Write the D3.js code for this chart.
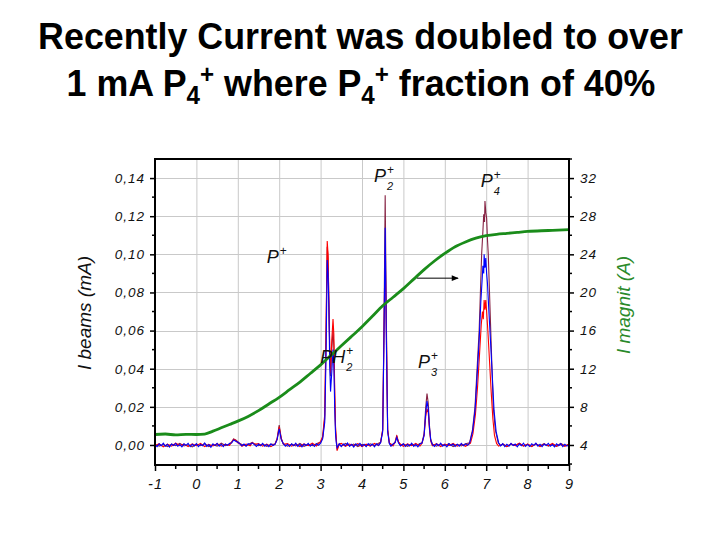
<!DOCTYPE html>
<html><head><meta charset="utf-8">
<script src="https://cdn.jsdelivr.net/npm/d3@7"></script>
<style>
html,body{margin:0;padding:0;background:#fff;}
svg{display:block;}
</style></head>
<body>
<svg id="chart" width="720" height="540"></svg>
<script>
// ---------- data ----------
const titleLine1 = "Recently Current was doubled to over";
const xTicks = [-1,0,1,2,3,4,5,6,7,8,9];
const yLeftTicks = [0,0.02,0.04,0.06,0.08,0.10,0.12,0.14];
const yRightTicks = [4,8,12,16,20,24,28,32];

const beamMaroon = [[-1,0.0004],[-0.9,-0.0006],[-0.8,0.0002],[-0.7,-0.0009],[-0.6,0.0005],[-0.5,-0.0003],[-0.4,0.0008],[-0.3,-0.0005],[-0.2,0.0001],[-0.1,-0.0010],[0,0.0004],[0.1,-0.0004],[0.2,0.0007],[0.3,-0.0008],[0.4,0.0002],[0.5,-0.0006],[0.6,0.0009],[0.7,-0.0003],[0.8,0.0004],[0.85,0.0015],[0.9,0.0032],[0.95,0.0026],[1.0,0.0018],[1.05,0.0008],[1.1,0.0002],[1.2,-0.0005],[1.3,0.0008],[1.35,0.0014],[1.4,0.0006],[1.5,-0.0004],[1.6,0.0005],[1.7,-0.0007],[1.8,0.0003],[1.9,0.0004],[1.95,0.0035],[2.0,0.0105],[2.05,0.0035],[2.1,0.0006],[2.2,-0.0006],[2.3,0.0004],[2.4,-0.0005],[2.5,0.0008],[2.6,-0.0007],[2.7,0.0003],[2.8,-0.0004],[2.9,0.0007],[3.0,0.0015],[3.05,0.004],[3.1,0.014],[3.13,0.055],[3.16,0.104],[3.18,0.098],[3.2,0.074],[3.22,0.050],[3.24,0.036],[3.27,0.050],[3.3,0.060],[3.32,0.052],[3.34,0.026],[3.36,0.008],[3.38,0.002],[3.4,-0.002],[3.45,0.0004],[3.5,-0.0006],[3.6,0.0008],[3.7,-0.0004],[3.8,0.0005],[3.9,-0.0008],[4.0,0.0003],[4.1,-0.0005],[4.2,0.0006],[4.3,-0.0003],[4.4,0.0009],[4.45,0.0015],[4.5,0.008],[4.53,0.060],[4.56,0.131],[4.59,0.062],[4.62,0.008],[4.66,0.0012],[4.7,-0.0005],[4.75,0.0004],[4.8,0.0015],[4.84,0.0046],[4.88,0.0015],[4.93,-0.0003],[5.0,0.0006],[5.1,-0.0007],[5.2,0.0004],[5.3,-0.0005],[5.4,0.0008],[5.45,0.0012],[5.5,0.006],[5.54,0.020],[5.57,0.027],[5.6,0.022],[5.63,0.010],[5.66,0.003],[5.7,0.0004],[5.8,-0.0006],[5.9,0.0005],[6.0,-0.0004],[6.1,0.0007],[6.2,-0.0008],[6.3,0.0003],[6.4,-0.0005],[6.5,0.0006],[6.6,0.0012],[6.67,0.008],[6.73,0.020],[6.78,0.040],[6.83,0.060],[6.86,0.080],[6.89,0.100],[6.92,0.112],[6.94,0.121],[6.96,0.117],[6.97,0.128],[6.99,0.122],[7.01,0.119],[7.03,0.108],[7.05,0.100],[7.08,0.080],[7.11,0.060],[7.14,0.040],[7.17,0.020],[7.22,0.008],[7.29,0.0012],[7.35,-0.0004],[7.4,0.0006],[7.5,-0.0008],[7.6,0.0005],[7.7,-0.0003],[7.8,0.0008],[7.9,-0.0006],[8.0,0.0004],[8.1,-0.0009],[8.2,0.0006],[8.3,-0.0004],[8.4,0.0007],[8.5,-0.0006],[8.6,0.0003],[8.7,-0.0007],[8.8,0.0008],[8.9,-0.0004],[9.0,0.0003]];

const beamRed = [[-1,-0.0005],[-0.9,0.0007],[-0.8,-0.0010],[-0.7,0.0004],[-0.6,-0.0006],[-0.5,0.0009],[-0.4,-0.0003],[-0.3,0.0005],[-0.2,-0.0008],[-0.1,0.0006],[0,-0.0004],[0.1,0.0008],[0.2,-0.0009],[0.3,0.0003],[0.4,-0.0005],[0.5,0.0007],[0.6,-0.0006],[0.7,0.0004],[0.8,-0.0002],[0.85,0.0014],[0.9,0.0030],[0.95,0.0024],[1.0,0.0012],[1.05,0.0006],[1.1,-0.0007],[1.2,0.0005],[1.3,-0.0004],[1.35,0.0013],[1.4,0.0004],[1.5,0.0008],[1.6,-0.0006],[1.7,0.0005],[1.8,-0.0009],[1.9,0.0006],[1.95,0.0030],[2.0,0.0095],[2.05,0.0032],[2.1,0.0004],[2.2,0.0007],[2.3,-0.0006],[2.4,0.0005],[2.5,-0.0008],[2.6,0.0006],[2.7,-0.0004],[2.8,0.0009],[2.9,-0.0005],[3.0,0.0018],[3.05,0.0045],[3.1,0.016],[3.13,0.060],[3.16,0.107],[3.18,0.100],[3.2,0.076],[3.22,0.052],[3.24,0.038],[3.27,0.055],[3.3,0.066],[3.32,0.058],[3.34,0.030],[3.36,0.010],[3.38,0.003],[3.4,-0.003],[3.45,0.0005],[3.5,0.0008],[3.6,-0.0007],[3.7,0.0005],[3.8,-0.0004],[3.9,0.0007],[4.0,-0.0009],[4.1,0.0004],[4.2,-0.0006],[4.3,0.0008],[4.4,-0.0003],[4.45,0.0014],[4.5,0.008],[4.53,0.058],[4.56,0.102],[4.59,0.056],[4.62,0.008],[4.66,0.0010],[4.7,0.0006],[4.75,-0.0005],[4.8,0.0016],[4.84,0.0050],[4.88,0.0016],[4.93,0.0004],[5.0,-0.0007],[5.1,0.0006],[5.2,-0.0004],[5.3,0.0008],[5.4,-0.0006],[5.45,0.0009],[5.5,0.005],[5.54,0.015],[5.57,0.019],[5.6,0.017],[5.63,0.008],[5.66,0.002],[5.7,-0.0004],[5.8,0.0007],[5.9,-0.0008],[6.0,0.0005],[6.1,-0.0004],[6.2,0.0008],[6.3,-0.0006],[6.4,0.0004],[6.5,-0.0007],[6.62,0.0010],[6.68,0.006],[6.74,0.016],[6.79,0.030],[6.84,0.048],[6.88,0.063],[6.91,0.070],[6.93,0.066],[6.95,0.076],[6.97,0.071],[6.99,0.076],[7.01,0.070],[7.04,0.060],[7.08,0.044],[7.12,0.028],[7.16,0.014],[7.2,0.005],[7.25,0.0008],[7.3,-0.0006],[7.4,0.0005],[7.5,-0.0008],[7.6,0.0006],[7.7,-0.0004],[7.8,0.0009],[7.9,-0.0005],[8.0,0.0004],[8.1,-0.0007],[8.2,0.0006],[8.3,-0.0009],[8.4,0.0005],[8.5,-0.0004],[8.6,0.0008],[8.7,-0.0006],[8.8,0.0003],[8.9,-0.0007],[9.0,0.0005]];

const beamBlue = [[-1,0.0002],[-0.95,-0.0009],[-0.9,0.0006],[-0.85,-0.0004],[-0.8,0.0010],[-0.75,-0.0006],[-0.7,0.0003],[-0.65,-0.0011],[-0.6,0.0005],[-0.55,-0.0003],[-0.5,0.0008],[-0.45,-0.0007],[-0.4,0.0002],[-0.35,-0.0010],[-0.3,0.0006],[-0.25,-0.0002],[-0.2,0.0009],[-0.15,-0.0008],[-0.1,0.0004],[-0.05,-0.0005],[0,0.0007],[0.05,-0.0009],[0.1,0.0003],[0.15,-0.0004],[0.2,0.0010],[0.25,-0.0007],[0.3,0.0002],[0.35,-0.0012],[0.4,0.0006],[0.45,-0.0003],[0.5,0.0008],[0.55,-0.0006],[0.6,0.0004],[0.65,-0.0009],[0.7,0.0005],[0.75,-0.0002],[0.8,0.0009],[0.85,0.0010],[0.9,0.0026],[0.95,0.0020],[1.0,0.0014],[1.05,0.0006],[1.1,-0.0004],[1.15,0.0005],[1.2,-0.0006],[1.25,0.0007],[1.3,0.0003],[1.35,0.0011],[1.4,0.0002],[1.45,-0.0008],[1.5,0.0005],[1.55,-0.0004],[1.6,0.0008],[1.65,-0.0006],[1.7,0.0003],[1.75,-0.0009],[1.8,0.0006],[1.85,-0.0003],[1.9,0.0004],[1.95,0.0028],[2.0,0.0085],[2.05,0.0028],[2.1,0.0007],[2.15,-0.0006],[2.2,0.0004],[2.25,-0.0008],[2.3,0.0006],[2.35,-0.0004],[2.4,0.0009],[2.45,-0.0007],[2.5,0.0003],[2.55,-0.0010],[2.6,0.0005],[2.65,-0.0003],[2.7,0.0008],[2.75,-0.0006],[2.8,0.0004],[2.85,-0.0008],[2.9,0.0006],[2.95,-0.0002],[3.0,0.0010],[3.05,0.0032],[3.1,0.012],[3.13,0.045],[3.16,0.097],[3.18,0.090],[3.2,0.072],[3.22,0.042],[3.24,0.028],[3.27,0.038],[3.3,0.050],[3.32,0.042],[3.34,0.020],[3.36,0.006],[3.38,0.001],[3.4,-0.0015],[3.45,0.0006],[3.5,-0.0009],[3.55,0.0005],[3.6,-0.0004],[3.65,0.0010],[3.7,-0.0007],[3.75,0.0003],[3.8,-0.0011],[3.85,0.0006],[3.9,-0.0003],[3.95,0.0008],[4.0,-0.0006],[4.05,0.0004],[4.1,-0.0009],[4.15,0.0007],[4.2,-0.0004],[4.25,0.0005],[4.3,-0.0010],[4.35,0.0006],[4.4,-0.0003],[4.45,0.0012],[4.5,0.007],[4.53,0.055],[4.56,0.114],[4.59,0.052],[4.62,0.007],[4.66,0.0008],[4.7,-0.0006],[4.75,0.0005],[4.8,0.0012],[4.84,0.0040],[4.88,0.0012],[4.93,-0.0005],[5.0,0.0006],[5.05,-0.0008],[5.1,0.0004],[5.15,-0.0005],[5.2,0.0009],[5.25,-0.0007],[5.3,0.0003],[5.35,-0.0010],[5.4,0.0005],[5.45,0.0010],[5.5,0.005],[5.54,0.017],[5.57,0.023],[5.6,0.019],[5.63,0.009],[5.66,0.0025],[5.7,0.0003],[5.75,-0.0008],[5.8,0.0006],[5.85,-0.0004],[5.9,0.0009],[5.95,-0.0006],[6.0,0.0003],[6.05,-0.0010],[6.1,0.0007],[6.15,-0.0003],[6.2,0.0005],[6.25,-0.0008],[6.3,0.0004],[6.35,-0.0006],[6.4,0.0008],[6.45,-0.0004],[6.5,0.0006],[6.55,-0.0002],[6.6,0.0010],[6.67,0.007],[6.73,0.018],[6.78,0.036],[6.83,0.055],[6.87,0.075],[6.9,0.086],[6.92,0.094],[6.94,0.090],[6.95,0.100],[6.97,0.093],[6.99,0.098],[7.01,0.090],[7.03,0.085],[7.07,0.068],[7.11,0.052],[7.15,0.035],[7.19,0.018],[7.24,0.007],[7.3,0.0012],[7.35,-0.0005],[7.4,0.0007],[7.45,-0.0009],[7.5,0.0004],[7.55,-0.0006],[7.6,0.0008],[7.65,-0.0003],[7.7,0.0005],[7.75,-0.0010],[7.8,0.0006],[7.85,-0.0004],[7.9,0.0009],[7.95,-0.0007],[8.0,0.0003],[8.05,-0.0008],[8.1,0.0006],[8.15,-0.0002],[8.2,0.0010],[8.25,-0.0006],[8.3,0.0004],[8.35,-0.0009],[8.4,0.0005],[8.45,-0.0003],[8.5,0.0008],[8.55,-0.0007],[8.6,0.0002],[8.65,-0.0010],[8.7,0.0006],[8.75,-0.0004],[8.8,0.0007],[8.85,-0.0008],[8.9,0.0004],[8.95,-0.0006],[9.0,0.0002]];

const magnetCurrent = [[-1,5.1],[-0.75,5.15],[-0.5,5.05],[-0.25,5.12],[0,5.1],[0.2,5.15],[0.4,5.45],[0.6,5.8],[0.8,6.15],[1.0,6.5],[1.25,7.0],[1.5,7.6],[1.75,8.3],[2.0,9.0],[2.25,9.8],[2.5,10.6],[2.75,11.5],[3.0,12.4],[3.25,13.4],[3.5,14.4],[3.75,15.4],[4.0,16.4],[4.25,17.5],[4.5,18.6],[4.75,19.5],[5.0,20.4],[5.25,21.4],[5.5,22.4],[5.75,23.3],[6.0,24.1],[6.25,24.8],[6.5,25.3],[6.75,25.7],[7.0,25.95],[7.25,26.1],[7.5,26.2],[7.75,26.3],[8.0,26.4],[8.5,26.5],[9.0,26.6]];

// peak labels: [x, y(left axis), main, sub, sup]
const peakLabels = [
  [1.7, 0.0954, "P", "", "+"],
  [4.29, 0.138, "P", "2", "+"],
  [6.87, 0.1353, "P", "4", "+"],
  [2.99, 0.043, "PH", "2", "+"],
  [5.35, 0.0404, "P", "3", "+"]
];
const arrowSpan = [5.33, 6.32, 21.5]; // x start, x end, right-axis value

// ---------- layout ----------
const svg = d3.select("#chart");
const L = 155, R = 569, T = 159, B = 465;
const x = d3.scaleLinear().domain([-1, 9]).range([L, R]);
const yL = d3.scaleLinear().domain([-0.0105, 0.15]).range([B, T]);
const yR = d3.scaleLinear().domain([4 - 0.0105*200, 4 + 0.15*200]).range([B, T]);

// title
function fitText(sel, target) {
  const w = sel.node().getComputedTextLength();
  const cx = +sel.attr("data-cx");
  sel.attr("transform", `translate(${cx},0) scale(${target / w},1) translate(${-cx},0)`);
}
const tFont = "'Liberation Sans Narrow','Arial Narrow','Liberation Sans',Arial,sans-serif";
const t1 = svg.append("text").attr("x", 360.5).attr("y", 49).attr("data-cx", 360.5)
  .attr("text-anchor", "middle").attr("font-family", tFont).attr("font-weight", "bold")
  .attr("font-size", 37).text(titleLine1);
fitText(t1, 645);
const t2 = svg.append("text").attr("x", 361).attr("y", 96).attr("data-cx", 361)
  .attr("text-anchor", "middle").attr("font-family", tFont).attr("font-weight", "bold")
  .attr("font-size", 37);
t2.append("tspan").text("1 mA P");
t2.append("tspan").attr("font-size", 25).attr("dy", 8).text("4");
t2.append("tspan").attr("font-size", 25).attr("dy", -21).text("+");
t2.append("tspan").attr("dy", 13).text(" where P");
t2.append("tspan").attr("font-size", 25).attr("dy", 8).text("4");
t2.append("tspan").attr("font-size", 25).attr("dy", -21).text("+");
t2.append("tspan").attr("dy", 13).text(" fraction of 40%");
fitText(t2, 589);

// grid
const grid = svg.append("g").attr("stroke", "#c9c9c9").attr("stroke-width", 1);
grid.selectAll("line.v").data(xTicks.slice(1, -1)).join("line")
  .attr("x1", d => x(d) + 0.5).attr("x2", d => x(d) + 0.5).attr("y1", T).attr("y2", B);
grid.selectAll("line.h").data(yLeftTicks).join("line")
  .attr("y1", d => Math.round(yL(d)) + 0.5).attr("y2", d => Math.round(yL(d)) + 0.5).attr("x1", L).attr("x2", R);

// clip
svg.append("clipPath").attr("id", "clip").append("rect")
  .attr("x", L).attr("y", T).attr("width", R - L).attr("height", B - T);
const plot = svg.append("g").attr("clip-path", "url(#clip)");

const lineL = d3.line().x(d => x(d[0])).y(d => yL(d[1]));
const lineR = d3.line().x(d => x(d[0])).y(d => yR(d[1])).curve(d3.curveMonotoneX);

plot.append("path").datum(beamMaroon).attr("d", lineL).attr("fill", "none")
  .attr("stroke", "#862243").attr("stroke-width", 1.1);
plot.append("path").datum(beamRed).attr("d", lineL).attr("fill", "none")
  .attr("stroke", "#ff0000").attr("stroke-width", 1.1);
plot.append("path").datum(beamBlue).attr("d", lineL).attr("fill", "none")
  .attr("stroke", "#0000ff").attr("stroke-width", 1.1);
plot.append("path").datum(magnetCurrent).attr("d", lineR).attr("fill", "none")
  .attr("stroke", "#1a8c1a").attr("stroke-width", 2.8);

// arrow
svg.append("defs").append("marker").attr("id", "ah").attr("viewBox", "0 0 10 10")
  .attr("refX", 9).attr("refY", 5).attr("markerWidth", 9).attr("markerHeight", 7)
  .attr("markerUnits", "userSpaceOnUse").attr("orient", "auto")
  .append("path").attr("d", "M0,1 L10,5 L0,9 Z").attr("fill", "#000");
svg.append("line").attr("x1", x(arrowSpan[0])).attr("x2", x(arrowSpan[1]))
  .attr("y1", yR(arrowSpan[2])).attr("y2", yR(arrowSpan[2]))
  .attr("stroke", "#000").attr("stroke-width", 1).attr("marker-end", "url(#ah)");

// peak labels
const lf = "'Liberation Sans',Arial,sans-serif";
peakLabels.forEach(([px, py, main, sub, sup]) => {
  const g = svg.append("g").attr("font-family", lf).attr("font-style", "italic").attr("fill", "#111");
  const m = g.append("text").attr("x", x(px)).attr("y", yL(py)).attr("font-size", 18).text(main);
  const w = m.node().getComputedTextLength();
  if (sub) g.append("text").attr("x", x(px) + w + 1).attr("y", yL(py) + 8).attr("font-size", 11).text(sub);
  g.append("text").attr("x", x(px) + w + 1).attr("y", yL(py) - 8).attr("font-size", 12).attr("font-style", "normal").text(sup);
});

// axes
const fmt = d => d3.format(".2f")(d).replace(".", ",");
const axL = d3.axisLeft(yL).tickValues(yLeftTicks).tickFormat(fmt).tickSize(5).tickPadding(5);
const axR = d3.axisRight(yR).tickValues(yRightTicks).tickFormat(d => String(d)).tickSize(5).tickPadding(6);
const axB = d3.axisBottom(x).tickValues(xTicks).tickFormat(d => String(d)).tickSize(6).tickPadding(8);

function styleAxis(g) {
  g.select(".domain").remove();
  g.selectAll(".tick line").attr("stroke", "#000").attr("stroke-width", 1.5);
  g.selectAll(".tick text").attr("font-family", lf).attr("font-style", "italic")
    .attr("font-size", 13.5).attr("fill", "#111").attr("letter-spacing", 1);
}
svg.append("g").attr("transform", `translate(${L},0)`).call(axL).call(styleAxis);
svg.append("g").attr("transform", `translate(${R},0)`).call(axR).call(styleAxis);
svg.append("g").attr("transform", `translate(0,${B})`).call(axB).call(styleAxis)
  .selectAll(".tick text").attr("font-size", 14.5);

// minor ticks
const minorL = [0.01,0.03,0.05,0.07,0.09,0.11,0.13];
const minorR = [2,6,10,14,18,22,26,30,34];
const minorB = [-0.5,0.5,1.5,2.5,3.5,4.5,5.5,6.5,7.5,8.5];
const mt = svg.append("g").attr("stroke", "#000").attr("stroke-width", 1.5);
mt.selectAll("line.l").data(minorL).join("line")
  .attr("x1", L - 3).attr("x2", L).attr("y1", d => yL(d)).attr("y2", d => yL(d));
mt.selectAll("line.r").data(minorR).join("line")
  .attr("x1", R).attr("x2", R + 3).attr("y1", d => yR(d)).attr("y2", d => yR(d));
mt.selectAll("line.b").data(minorB).join("line")
  .attr("x1", d => x(d)).attr("x2", d => x(d)).attr("y1", B).attr("y2", B + 4);

// frame
svg.append("rect").attr("x", L).attr("y", T).attr("width", R - L).attr("height", B - T)
  .attr("fill", "none").attr("stroke", "#000").attr("stroke-width", 2);

// axis titles
svg.append("text").attr("transform", `translate(91,${313}) rotate(-90)`)
  .attr("text-anchor", "middle").attr("font-family", lf).attr("font-style", "italic")
  .attr("font-size", 19).attr("fill", "#111").text("I beams (mA)");
svg.append("text").attr("transform", `translate(630,${305}) rotate(-90)`)
  .attr("text-anchor", "middle").attr("font-family", lf).attr("font-style", "italic")
  .attr("font-size", 19).attr("fill", "#2a8a2a").text("I magnit (A)");
</script>
</body></html>
